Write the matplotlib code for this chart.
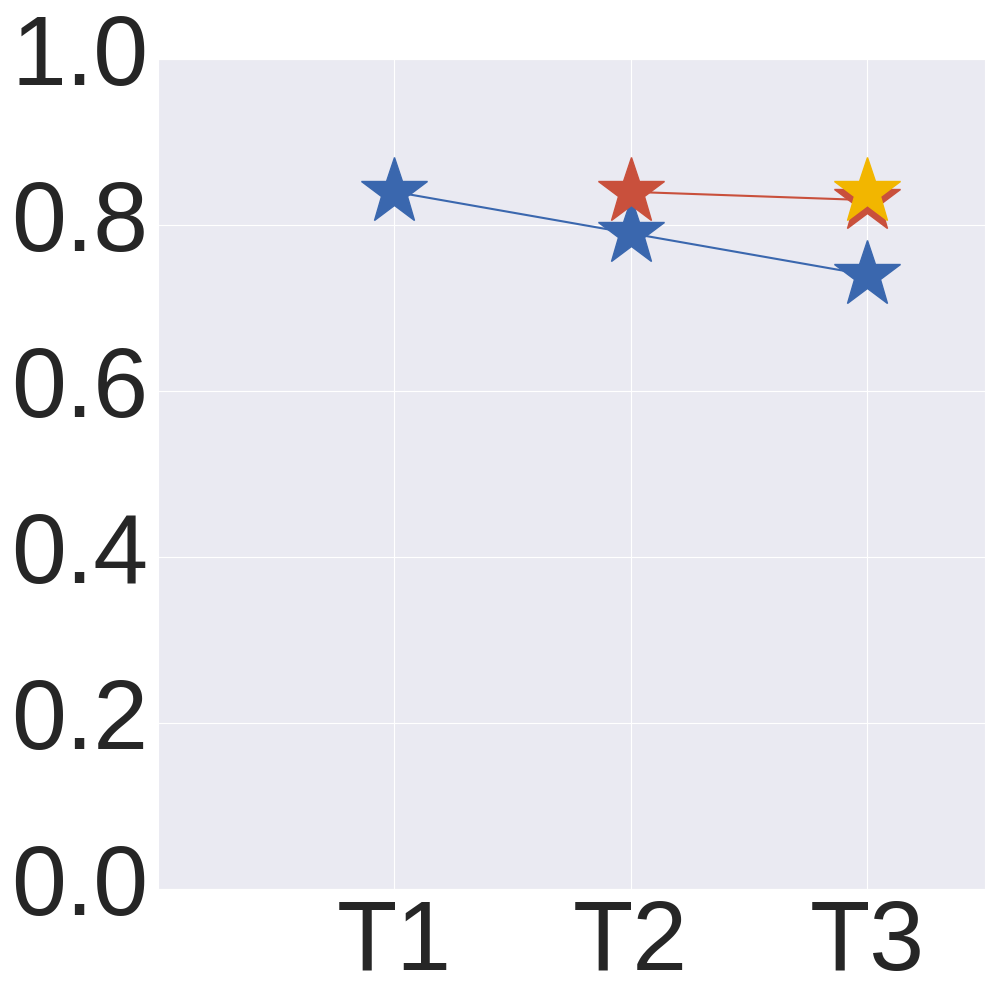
import matplotlib
matplotlib.use("Agg")
import matplotlib.pyplot as plt
import seaborn as sns

# values
tasks = ["T1", "T2", "T3"]
blue_x = [1, 2, 3]
blue_y = [0.84, 0.79, 0.74]
red_x = [2, 3]
red_y = [0.84, 0.83]
yellow_x = [3]
yellow_y = [0.84]

sns.set_style("darkgrid")
plt.rcParams["font.family"] = ["Liberation Sans", "DejaVu Sans"]

fig, ax = plt.subplots(figsize=(10, 10), dpi=100)
fig.subplots_adjust(left=0.158, right=0.985, bottom=0.111, top=0.941)

ax.plot(blue_x, blue_y, color="#3a67ae", marker="*", markersize=50, linewidth=1.5)
ax.plot(red_x, red_y, color="#c9503c", marker="*", markersize=50, linewidth=1.5)
ax.plot(yellow_x, yellow_y, color="#f2b600", marker="*", markersize=50, linewidth=1.5)

ax.set_xlim(0, 3.5)
ax.set_ylim(0, 1.0)
ax.set_xticks([1, 2, 3])
ax.set_xticklabels(tasks)
ax.set_yticks([0, 0.2, 0.4, 0.6, 0.8, 1.0])
ax.set_yticklabels(["0.0", "0.2", "0.4", "0.6", "0.8", "1.0"])
ax.tick_params(labelsize=71, colors="#262626")
for lbl in ax.get_yticklabels():
    lbl.set_verticalalignment("center")

fig.savefig("out.png", dpi=100)
